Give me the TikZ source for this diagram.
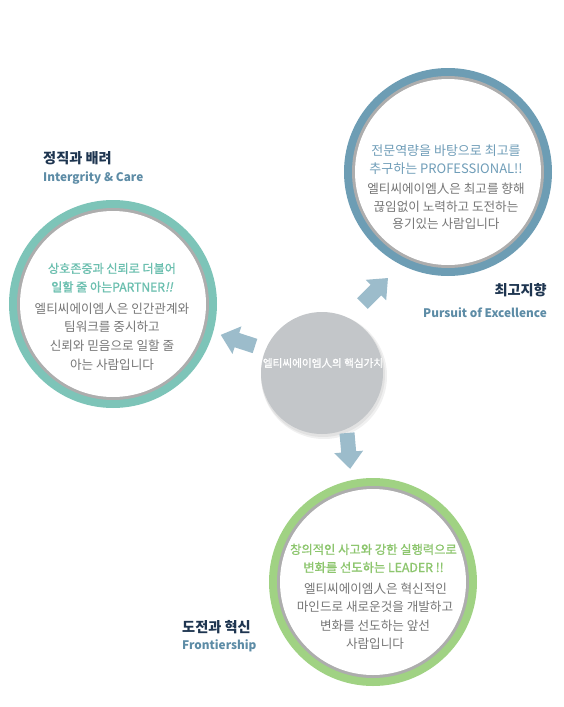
\documentclass[tikz,border=0pt]{standalone}
\usepackage{fontspec}
\setmainfont{Noto Sans CJK KR}
\newfontfamily\krslant[FakeSlant=0.2,FakeBold=1.2]{Noto Sans CJK KR}
\newfontfamily\krheavy[FakeBold=1.2]{Noto Sans CJK KR}
\definecolor{ringteal}{HTML}{7DC4B8}
\definecolor{ringblue}{HTML}{6D9DB4}
\definecolor{ringgreen}{HTML}{A0D283}
\definecolor{innergray}{HTML}{ADADAD}
\definecolor{coregray}{HTML}{C3C6C9}
\definecolor{arrowblue}{HTML}{9CBCCB}
\definecolor{titlenavy}{HTML}{1E3550}
\definecolor{subblue}{HTML}{5D8CA6}
\definecolor{headteal}{HTML}{6BBFAF}
\definecolor{headblue}{HTML}{6F9DB8}
\definecolor{headgreen}{HTML}{8DC66E}
\definecolor{bodygray}{HTML}{767676}
\begin{document}
\begin{tikzpicture}[x=1pt,y=-1pt,
  disk/.style={circle, inner sep=0pt, minimum size=208pt, fill=#1},
  txt/.style={inner sep=0pt, anchor=base},
  headline/.style={txt, font=\fontsize{12.1}{14}\krheavy, text=#1},
  bodyline/.style={txt, font=\fontsize{12.6}{14}\selectfont, text=bodygray},
  titlekr/.style={txt, font=\fontsize{14.2}{16}\selectfont\bfseries, text=titlenavy},
  titleen/.style={txt, font=\fontsize{11.8}{14}\selectfont\bfseries, text=subblue},
  pics/blockarr/.style={code={
    \fill[arrowblue] (0pt,-7.5pt) -- (19pt,-7.5pt) -- (19pt,-14.5pt) -- (36pt,0pt)
      -- (19pt,14.5pt) -- (19pt,7.5pt) -- (0pt,7.5pt) -- cycle;}}
]
\useasboundingbox (0,0) rectangle (564,707);

% circles
\node[disk=ringteal] (partner) at (113,304) {};
\fill[innergray] (partner.center) circle (96pt);
\fill[white] (partner.center) circle (93pt);

\node[disk=ringblue] (professional) at (448,172) {};
\fill[innergray] (professional.center) circle (96pt);
\fill[white] (professional.center) circle (93pt);

\node[disk=ringgreen] (leader) at (373,582) {};
\fill[innergray] (leader.center) circle (96pt);
\fill[white] (leader.center) circle (93pt);

% core
\fill[black, opacity=0.06] (324,376) circle (63pt);
\fill[black, opacity=0.06] (323,375) circle (62pt);
\node[circle, inner sep=0pt, minimum size=122pt, fill=coregray] (core) at (322,373) {};
\node[txt, font=\fontsize{10.6}{12}\krheavy, text=white] (coretext) at (323,367) {엘티씨에이엠人의 핵심가치};

% arrows
\coordinate (tailL) at (255,346);
\coordinate (tailR) at (362.5,303.5);
\coordinate (tailB) at (347,433);
\pic[rotate=162] at (tailL) {blockarr};
\pic[rotate=45] at (tailR) {blockarr};
\pic[rotate=-85] at (tailB) {blockarr};

% left circle text
\node[headline=headteal] (p1) at (112,273) {상호존중과 신뢰로 더불어};
\node[headline=headteal] (p2) at (112,291.5) {일할 줄 아는PARTNER{\krslant!!}};
\node[bodyline] (p3) at (112,313.5) {엘티씨에이엠人은 인간관계와};
\node[bodyline] (p4) at (112,331.5) {팀워크를 중시하고};
\node[bodyline] (p5) at (112,350.5) {신뢰와 믿음으로 일할 줄};
\node[bodyline] (p6) at (112,369.5) {아는 사람입니다};

% top-right circle text
\node[txt, font=\fontsize{13}{14}\selectfont, text=headblue] (r1) at (446,155.5) {전문역량을 바탕으로 최고를};
\node[txt, font=\fontsize{13}{14}\selectfont, text=headblue] (r2) at (446,173.5) {추구하는 PROFESSIONAL!!};
\node[bodyline] (r3) at (446,193.5) {엘티씨에이엠人은 최고를 향해};
\node[bodyline] (r4) at (446,211.5) {끊임없이 노력하고 도전하는};
\node[bodyline] (r5) at (446,228.5) {용기있는 사람입니다};

% bottom circle text
\node[headline=headgreen, font=\fontsize{12.3}{14}\krheavy] (l1) at (373.5,554) {창의적인 사고와 강한 실행력으로};
\node[headline=headgreen, font=\fontsize{12.3}{14}\krheavy] (l2) at (373.5,572) {변화를 선도하는 LEADER !!};
\node[bodyline] (l3) at (375.5,593.5) {엘티씨에이엠人은 혁신적인};
\node[bodyline] (l4) at (375,611.5) {마인드로 새로운것을 개발하고};
\node[bodyline] (l5) at (375,630.5) {변화를 선도하는 앞선};
\node[bodyline] (l6) at (375,648.5) {사람입니다};

% titles
\node[titlekr, anchor=base west] (t1) at (43,163) {정직과 배려};
\node[titleen, anchor=base west] (t1e) at (43,181) {Intergrity \& Care};
\node[titlekr, anchor=base east] (t2) at (547,295) {최고지향};
\node[titleen, anchor=base east] (t2e) at (547,317) {Pursuit of Excellence};
\node[titlekr, anchor=base west] (t3) at (182,632) {도전과 혁신};
\node[titleen, anchor=base west] (t3e) at (182,649) {Frontiership};
\end{tikzpicture}
\end{document}
